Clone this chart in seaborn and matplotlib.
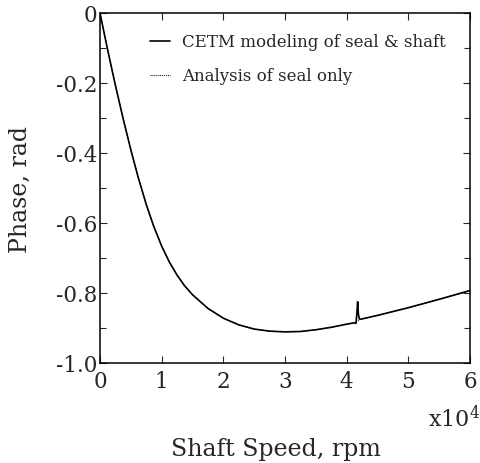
import numpy as np
import pandas as pd
import matplotlib
matplotlib.use("Agg")
import matplotlib.pyplot as plt
import seaborn as sns
from matplotlib.ticker import MultipleLocator

# Shaft speed in units of 1e4 rpm, phase in rad
speed_cetm = [0, 0.12, 0.24, 0.37, 0.5, 0.62, 0.75, 0.87, 1.0, 1.12, 1.25,
              1.37, 1.5, 1.75, 2.0, 2.25, 2.5, 2.75, 3.0, 3.25, 3.5, 3.75,
              4.0, 4.13, 4.15, 4.165, 4.178, 4.19, 4.205, 4.225, 4.5, 5.0,
              5.5, 6.0]
phase_cetm = [0, -0.102, -0.199, -0.298, -0.391, -0.470, -0.547, -0.609,
              -0.666, -0.710, -0.749, -0.779, -0.805, -0.844, -0.872, -0.891,
              -0.903, -0.909, -0.911, -0.910, -0.905, -0.898, -0.889, -0.885,
              -0.887, -0.86, -0.825, -0.86, -0.874, -0.875, -0.864, -0.842,
              -0.818, -0.793]
speed_seal = [0, 0.12, 0.24, 0.37, 0.5, 0.62, 0.75, 0.87, 1.0, 1.12, 1.25,
              1.37, 1.5, 1.75, 2.0, 2.25, 2.5, 2.75, 3.0, 3.25, 3.5, 3.75,
              4.0, 4.13, 4.225, 4.5, 5.0, 5.5, 6.0]
phase_seal = [0, -0.102, -0.199, -0.298, -0.391, -0.470, -0.547, -0.609,
              -0.666, -0.710, -0.749, -0.779, -0.805, -0.844, -0.872, -0.891,
              -0.903, -0.909, -0.911, -0.910, -0.905, -0.898, -0.889, -0.885,
              -0.875, -0.864, -0.842, -0.818, -0.793]
label_cetm = "CETM modeling of seal & shaft"
label_seal = "Analysis of seal only"
xticks = [0, 1, 2, 3, 4, 5, 6]
yticks = [0, -0.2, -0.4, -0.6, -0.8, -1.0]
ytick_labels = ["0", "-0.2", "-0.4", "-0.6", "-0.8", "-1.0"]

sns.set_style("ticks")
plt.rcParams["font.family"] = ["DejaVu Serif"]
plt.rcParams["mathtext.fontset"] = "dejavuserif"
plt.rcParams["xtick.direction"] = "in"
plt.rcParams["ytick.direction"] = "in"

fig = plt.figure(figsize=(4.8, 4.63), dpi=100)
ax = fig.add_axes([100 / 480, 1 - 363 / 463, 370 / 480, 350 / 463])

df_c = pd.DataFrame({"speed": speed_cetm, "phase": phase_cetm})
df_s = pd.DataFrame({"speed": speed_seal, "phase": phase_seal})
sns.lineplot(data=df_c, x="speed", y="phase", ax=ax, color="black", lw=1.2,
             label=label_cetm)
sns.lineplot(data=df_s, x="speed", y="phase", ax=ax, color="black", lw=0.7,
             linestyle=(0, (1, 1)), label=label_seal)

ax.set_xlim(0, 6)
ax.set_ylim(-1.0, 0)
ax.set_xticks(xticks)
ax.set_xticklabels([str(t) for t in xticks])
ax.set_yticks(yticks)
ax.set_yticklabels(ytick_labels)
ax.yaxis.set_minor_locator(MultipleLocator(0.1))
ax.tick_params(which="both", top=True, right=True, direction="in",
               labelsize=15.5, width=0.8)
ax.tick_params(axis="x", which="major", pad=6)
ax.tick_params(axis="y", which="major", pad=2)
ax.tick_params(which="major", length=5)
ax.tick_params(which="minor", length=4)
for s in ax.spines.values():
    s.set_linewidth(1.1)
    s.set_color("black")

ax.set_xlabel("Shaft Speed, rpm", fontsize=17)
ax.xaxis.label.set_va("baseline")
ax.xaxis.set_label_coords((276 - 100) / 370, -(456 - 363) / 350)
ax.set_ylabel("Phase, rad", fontsize=17)
ax.yaxis.label.set_va("center")
ax.yaxis.set_label_coords(-(100 - 20) / 370, 1 - (190 - 13) / 350)

fig.text(1.0, 1 - 427 / 463, r"x10$^4$", fontsize=16, ha="right",
         va="baseline")

ax.legend(loc="upper left", frameon=False, fontsize=12,
          handlelength=1.2, handletextpad=0.7, labelspacing=1.0,
          borderpad=0, borderaxespad=0,
          bbox_to_anchor=((150 - 100) / 370, 1 - (34 - 13) / 350))

fig.savefig("out.png", dpi=100)
